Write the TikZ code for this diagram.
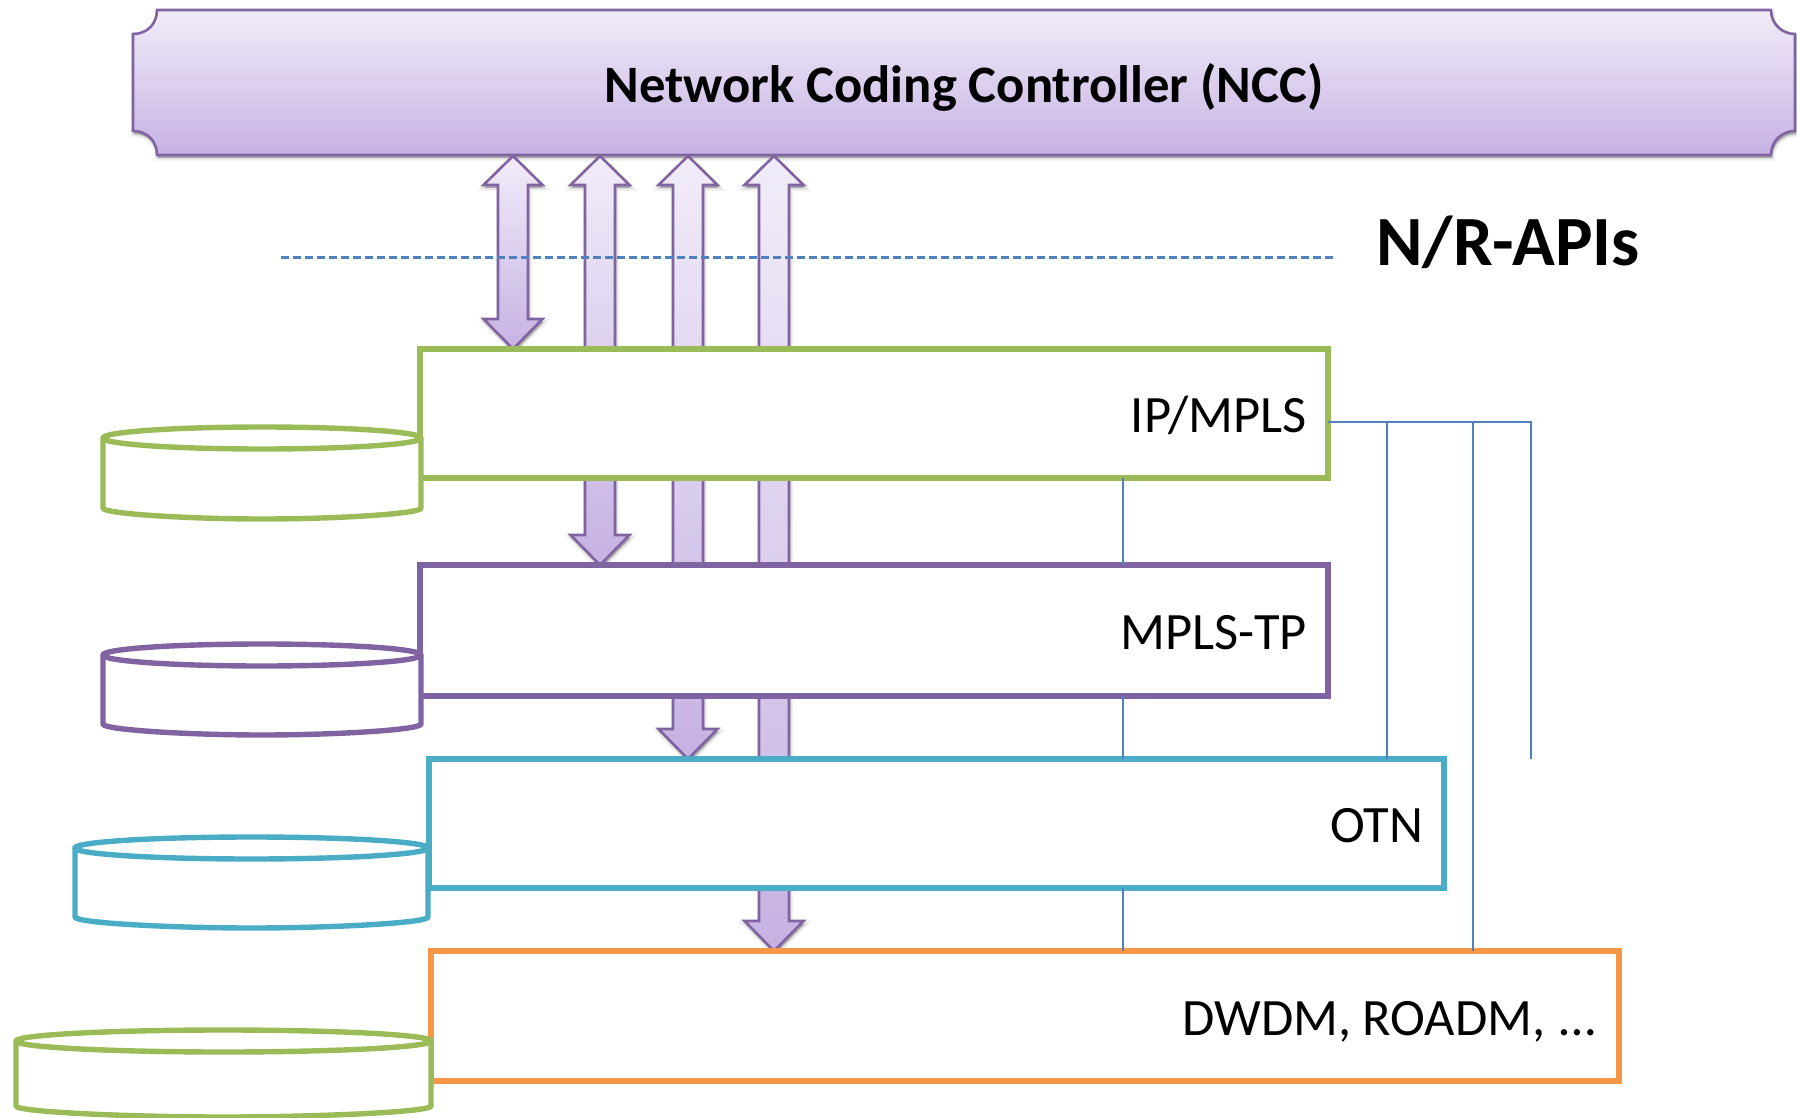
\documentclass[tikz,border=0pt]{standalone}
\usepackage{fontspec}
\setmainfont{Carlito}
\usetikzlibrary{calc}
\definecolor{grn}{HTML}{9BBB59}
\definecolor{pur}{HTML}{8064A2}
\definecolor{teal2}{HTML}{4BACC6}
\definecolor{org}{HTML}{F79646}
\definecolor{blu}{HTML}{4F81BD}
\definecolor{gtop}{HTML}{F1ECF9}
\definecolor{gmid}{HTML}{E0D3EF}
\definecolor{gbot}{HTML}{C6B2E3}
\tikzset{
  softshadow/.style={
    preaction={draw=black,fill=black,line width=6pt,opacity=.05,transform canvas={shift={(1pt,-3pt)}}},
    preaction={draw=black,fill=black,line width=3pt,opacity=.08,transform canvas={shift={(1pt,-3pt)}}},
    preaction={fill=black,opacity=.14,transform canvas={shift={(1pt,-3pt)}}}},
  purfill/.style={draw=pur,line width=2.6pt,line join=miter,top color=gtop,middle color=gmid,bottom color=gbot},
  blockarrow/.style={purfill,softshadow},
  layer/.style={draw=#1,fill=white,line width=5.2pt,outer sep=0pt,align=right,
    font=\fontsize{52.5}{56}\selectfont\frenchspacing,text height=38pt,text depth=0pt},
  disk/.style={draw=#1,fill=white,line width=5.4pt,line join=round},
  tap/.style={draw=blu,line width=2.8pt},
}
\newcommand{\apiarrow}[2]{%
  \coordinate (T) at (#1 |- ncc.south);
  \coordinate (B) at (#1 |- #2.north);
  \path[blockarrow]
    (T) -- ($(T)+(29.5,29)$) -- ($(T)+(15,29)$) -- ($(B)+(15,-30)$) -- ($(B)+(29.5,-30)$)
    -- (B) -- ($(B)+(-29.5,-30)$) -- ($(B)+(-15,-30)$) -- ($(T)+(-15,29)$) -- ($(T)+(-29.5,29)$) -- cycle;
}
\newcommand{\diskshape}[6]{% name, x1, x2, ycentre, yside, colour
  \pgfmathsetmacro{\cxx}{(#2+#3)/2}
  \pgfmathsetmacro{\rxx}{(#3-#2)/2}
  \pgfmathsetmacro{\kxx}{\rxx*0.45}
  \path[disk=#6] (#2,#4) -- (#2,#5)
    .. controls (#2,#5+6) and (\cxx-\kxx,#5+11) .. (\cxx,#5+11)
    .. controls (\cxx+\kxx,#5+11) and (#3,#5+6) .. (#3,#5) -- (#3,#4) -- cycle;
  \path[disk=#6] (\cxx,#4) ellipse [x radius=\rxx, y radius=11];
  \coordinate (#1) at (\cxx,#4);
}
\begin{document}
\begin{tikzpicture}[x=1pt,y=-1pt]
\useasboundingbox (0,0) rectangle (1797,1118);
% controller
\path[purfill,softshadow]
  (157,10) -- (1771,10) .. controls (1771,24) and (1782,34) .. (1795,34)
  -- (1795,131) .. controls (1782,131) and (1771,141) .. (1771,155)
  -- (157,155) .. controls (157,141) and (147,131) .. (133,131)
  -- (133,34) .. controls (147,34) and (157,24) .. (157,10) -- cycle;
\node[outer sep=0pt,minimum width=1662pt,minimum height=145pt,font=\fontsize{52.6}{56}\selectfont\bfseries,text height=38pt,text depth=0pt] (ncc) at (964,83.5) {Network Coding Controller (NCC)};
% layers are declared first for anchors, redrawn above arrows
\path node[outer sep=0pt,minimum width=908pt,minimum height=129pt] (ip0) at (874,413.5) {}
      node[outer sep=0pt,minimum width=908pt,minimum height=131pt] (tp0) at (874,630.5) {}
      node[outer sep=0pt,minimum width=1015pt,minimum height=129pt] (otn0) at (936.5,823.5) {}
      node[outer sep=0pt,minimum width=1188pt,minimum height=130pt] (dw0) at (1025,1016) {};
\coordinate (a1) at (513,0);
\coordinate (a2) at (600,0);
\coordinate (a3) at (688,0);
\coordinate (a4) at (774,0);
\apiarrow{a4}{dw0}
\apiarrow{a3}{otn0}
\apiarrow{a2}{tp0}
\apiarrow{a1}{ip0}
% interface line
\coordinate (apiL) at (281,257.5);
\coordinate (apiR) at (1333,257.5);
\draw[blu,line width=2.4pt,dash pattern=on 8pt off 4pt] (apiL) -- (apiR);
\node[font=\fontsize{70.6}{74}\selectfont\bfseries,anchor=center] (apis) at (1508,242) {N/R-APIs};
% layers
\node[layer=grn,minimum width=908pt,minimum height=129pt,text width=866pt] (ip) at (874,413.5) {IP/MPLS};
\node[layer=pur,minimum width=908pt,minimum height=131pt,text width=866pt] (tp) at (874,630.5) {MPLS-TP};
\node[layer=teal2,minimum width=1015pt,minimum height=129pt,text width=973pt] (otn) at (936.5,823.5) {OTN};
\node[layer=org,minimum width=1188pt,minimum height=130pt,text width=1142pt] (dw) at (1025,1016) {DWDM, \kern-7pt ROADM, \kern-3pt …};
% disks
\diskshape{d1}{103}{421}{438}{508}{grn}
\diskshape{d2}{103}{421}{655}{724}{pur}
\diskshape{d3}{75}{428}{848}{917}{teal2}
\diskshape{d4}{16}{431}{1041}{1106}{grn}
% tap lines
\coordinate (v) at (1123,0);
\draw[tap] (ip.south -| v) -- (tp.north -| v);
\draw[tap] (tp.south -| v) -- (otn.north -| v);
\draw[tap] (otn.south -| v) -- (dw.north -| v);
\coordinate (busEnd) at (1531,422);
\coordinate (bus1) at (1387,422);
\coordinate (bus2) at (1473,422);
\draw[tap] (ip.east |- busEnd) -- (busEnd) -- (busEnd |- otn.north);
\draw[tap] (bus1) -- (bus1 |- otn.north);
\draw[tap] (bus2) -- (bus2 |- dw.north);
\end{tikzpicture}
\end{document}
